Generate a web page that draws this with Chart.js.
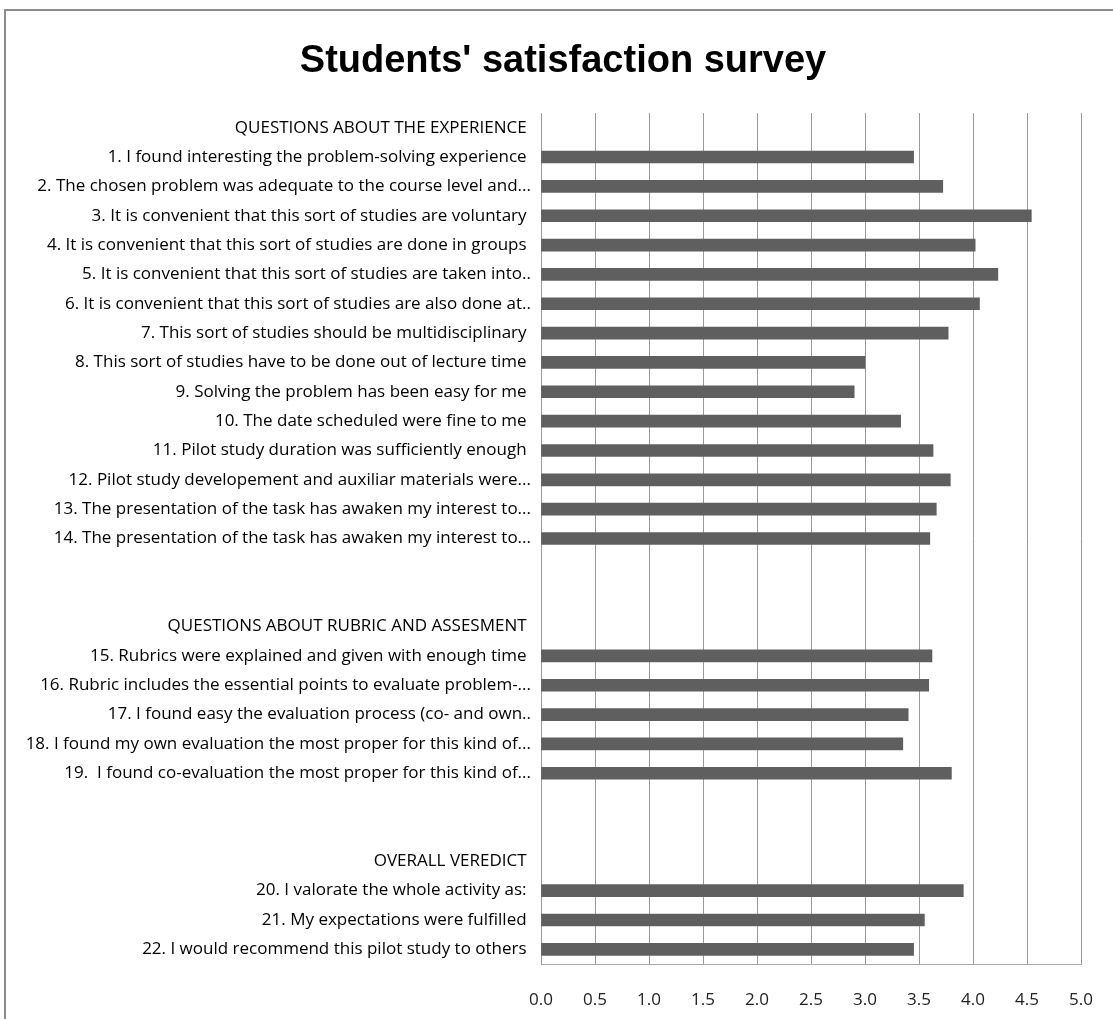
<!DOCTYPE html>
<html>
<head>
<meta charset="utf-8">
<script src="https://cdn.jsdelivr.net/npm/chart.js@4/dist/chart.umd.min.js"></script>
<style>
  html, body { margin: 0; padding: 0; background: #ffffff; }
  #wrap { position: relative; width: 1113px; height: 1019px; overflow: hidden; }
  #frame { position: absolute; left: 4px; top: 9px; width: 1200px; height: 1100px;
           border-left: 2px solid #8c8c8c; border-top: 2px solid #8c8c8c; box-sizing: border-box; }
  #c { position: absolute; left: 0; top: 0; }
</style>
</head>
<body>
<div id="wrap">
  <div id="frame"></div>
  <canvas id="c" width="1113" height="1019"></canvas>
</div>
<script>
const chartTitle = "Students' satisfaction survey";

const categories = [
  "QUESTIONS ABOUT THE EXPERIENCE ",
  "1. I found interesting the problem-solving experience ",
  "2. The chosen problem was adequate to the course level and...",
  "3. It is convenient that this sort of studies are voluntary ",
  "4. It is convenient that this sort of studies are done in groups ",
  "5. It is convenient that this sort of studies are taken into..",
  "6. It is convenient that this sort of studies are also done at..",
  "7. This sort of studies should be multidisciplinary ",
  "8. This sort of studies have to be done out of lecture time ",
  "9. Solving the problem has been easy for me ",
  "10. The date scheduled were fine to me ",
  "11. Pilot study duration was sufficiently enough ",
  "12. Pilot study developement and auxiliar materials were...",
  "13. The presentation of the task has awaken my interest to...",
  "14. The presentation of the task has awaken my interest to...",
  "",
  "",
  "QUESTIONS ABOUT RUBRIC AND ASSESMENT ",
  "15. Rubrics were explained and given with enough time ",
  "16. Rubric includes the essential points to evaluate problem-...",
  "17. I found easy the evaluation process (co- and own..",
  "18. I found my own evaluation the most proper for this kind of...",
  "19.  I found co-evaluation the most proper for this kind of...",
  "",
  "",
  "OVERALL VEREDICT ",
  "20. I valorate the whole activity as: ",
  "21. My expectations were fulfilled ",
  "22. I would recommend this pilot study to others "
];

const scores = [
  null,
  3.45, 3.72, 4.54, 4.02, 4.23, 4.06, 3.77, 3.00, 2.90, 3.33, 3.63, 3.79, 3.66, 3.60,
  null, null,
  null,
  3.62, 3.59, 3.40, 3.35, 3.80,
  null, null,
  null,
  3.91, 3.55, 3.45
];

const xTicks = [0, 0.5, 1, 1.5, 2, 2.5, 3, 3.5, 4, 4.5, 5];

const PAD_LEFT = 10;
const PLOT_TOP = 113;
const PLOT_LEFT = 541;
const PLOT_RIGHT = 1081;
const PLOT_BOTTOM = 964;
const CANVAS_W = 1113;
const CANVAS_H = 1019;

const titlePlugin = {
  id: 'centeredTitle',
  afterDraw(chart) {
    const ctx = chart.ctx;
    ctx.save();
    ctx.font = "bold 38px 'Liberation Sans'";
    ctx.fillStyle = '#000000';
    ctx.textAlign = 'center';
    ctx.textBaseline = 'middle';
    ctx.fillText(chartTitle, 563, 62);
    ctx.restore();
  }
};

new Chart(document.getElementById('c'), {
  type: 'bar',
  data: {
    labels: categories,
    datasets: [{
      data: scores,
      backgroundColor: '#5f5f5f',
      borderWidth: 0,
      barThickness: 12
    }]
  },
  plugins: [titlePlugin],
  options: {
    indexAxis: 'y',
    responsive: false,
    animation: false,
    layout: { padding: { left: PAD_LEFT, right: 0, top: PLOT_TOP, bottom: 0 } },
    plugins: {
      legend: { display: false },
      tooltip: { enabled: false },
      title: { display: false }
    },
    scales: {
      x: {
        min: 0,
        max: 5,
        afterBuildTicks: (axis) => { axis.ticks = xTicks.map(v => ({ value: v })); },
        afterFit: (axis) => {
          axis.height = CANVAS_H - PLOT_BOTTOM;
          axis.paddingLeft = 0;
          axis.paddingRight = CANVAS_W - PLOT_RIGHT;
        },
        grid: { color: '#9a9a9a', lineWidth: 1, drawTicks: false },
        border: { display: true, color: '#a8a8a8', width: 1 },
        ticks: {
          color: '#222222',
          padding: 26,
          maxRotation: 0,
          font: { family: 'Open Sans', size: 17 },
          callback: (v) => Number(v).toFixed(1)
        }
      },
      y: {
        afterFit: (axis) => { axis.width = PLOT_LEFT - PAD_LEFT; },
        grid: { display: false, drawTicks: false },
        border: { display: true, color: '#9a9a9a', width: 1 },
        ticks: {
          autoSkip: false,
          color: '#000000',
          padding: 10,
          font: { family: 'Open Sans', size: 17 }
        }
      }
    }
  }
});
</script>
</body>
</html>
